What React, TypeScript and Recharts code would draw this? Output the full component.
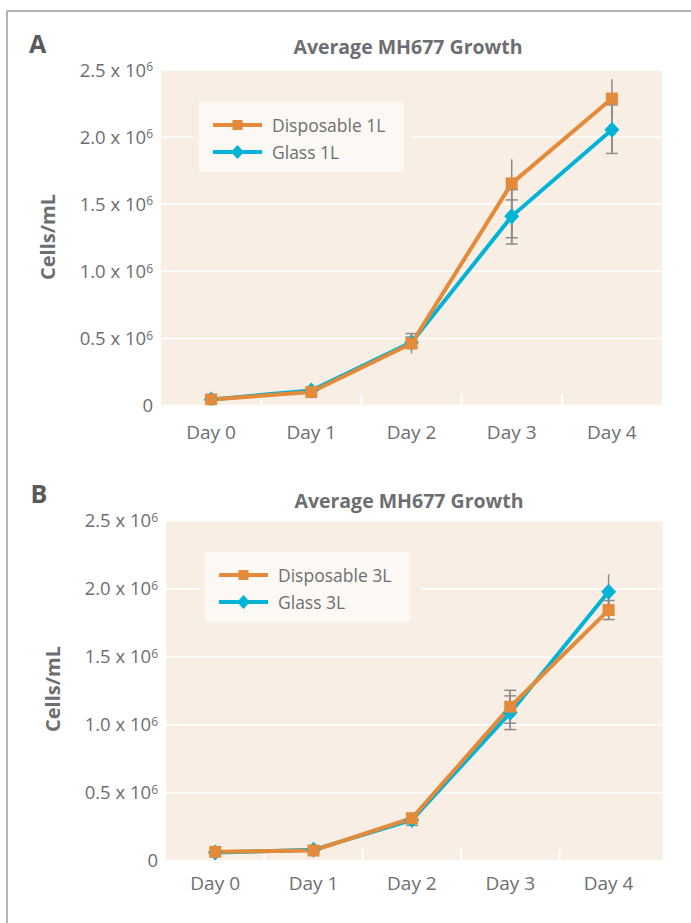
import React from 'react';
import { LineChart, Line, XAxis, YAxis, CartesianGrid, ErrorBar, Legend, ReferenceLine } from 'recharts';

// ---------- data (values in 10^6 cells/mL) ----------
const DAYS = ['Day 0', 'Day 1', 'Day 2', 'Day 3', 'Day 4'];
const Y_TICKS = [0, 0.5, 1, 1.5, 2, 2.5];
const TITLE = 'Average MH677 Growth';
const Y_LABEL = 'Cells/mL';

// Panel A: 1L vessels
const A_NAMES = ['Disposable 1L', 'Glass 1L'];
const A_DISPOSABLE = [0.045, 0.1, 0.462, 1.655, 2.287];
const A_GLASS = [0.045, 0.112, 0.47, 1.41, 2.054];
const A_DISP_WHISKER = [null, null, [0.074, 0.074], [0.405, 0.18], [0.144, 0.144]];
const A_DISP_CAPS = [null, null, [0, 0.074], [0.405, -0.123], null];
const A_GLASS_WHISKER = [null, null, [0.04, 0.04], [0.207, 0.198], [0.176, 0.186]];
const A_GLASS_CAPS = [null, null, [0.04, 0.04], [0.207, 0.198], [0.176, 0.186]];

// Panel B: 3L vessels
const B_NAMES = ['Disposable 3L', 'Glass 3L'];
const B_DISPOSABLE = [0.065, 0.075, 0.312, 1.132, 1.843];
const B_GLASS = [0.06, 0.08, 0.3, 1.088, 1.978];
const B_DISP_WHISKER = [null, null, null, [0.121, 0.121], [0.07, 0.07]];
const B_DISP_CAPS = [null, null, null, [0.121, 0.121], [0.07, 0.07]];
const B_GLASS_WHISKER = [null, null, [0.04, 0.04], [0.124, 0.124], [0.151, 0.128]];
const B_GLASS_CAPS = [null, null, [0.04, 0.04], [0.124, 0.124], [0.151, 0]];

// category boundaries between days
const BOUNDARY_TICKS = [0.5, 1.5, 2.5, 3.5];

// ---------- styles ----------
const FONT = "'Open Sans', sans-serif";
const TEXT = '#6d6e71';
const ORANGE = '#E38A3B';
const CYAN = '#00B3D7';
const PLOT_BG = '#F8EEE4';
const LEGEND_BG = '#FCF9F5';
const ERR = '#8c8c8c';

const buildRows = (disp, glass, dW, dC, gW, gC) =>
  DAYS.map((d, i) => ({
    idx: i,
    day: d,
    disp: disp[i],
    glass: glass[i],
    dW: dW[i],
    dC: dC[i],
    gW: gW[i],
    gC: gC[i],
  }));

const ROWS_A = buildRows(A_DISPOSABLE, A_GLASS, A_DISP_WHISKER, A_DISP_CAPS, A_GLASS_WHISKER, A_GLASS_CAPS);
const ROWS_B = buildRows(B_DISPOSABLE, B_GLASS, B_DISP_WHISKER, B_DISP_CAPS, B_GLASS_WHISKER, B_GLASS_CAPS);

const squareDot = (props: any) => {
  const { cx, cy, index } = props;
  if (cx == null || cy == null) return <g key={`s${index}`} />;
  return <rect key={`s${index}`} x={cx - 6} y={cy - 6} width={12} height={12} fill={ORANGE} />;
};
const diamondDot = (props: any) => {
  const { cx, cy, index } = props;
  if (cx == null || cy == null) return <g key={`d${index}`} />;
  return (
    <polygon
      key={`d${index}`}
      points={`${cx},${cy - 8} ${cx + 7.5},${cy} ${cx},${cy + 8} ${cx - 7.5},${cy}`}
      fill={CYAN}
    />
  );
};

// short white tick rising from the bottom of the plot at a category boundary
const boundaryTick = (props: any) => {
  const { x1, y1, x2, y2 } = props;
  if (x1 == null) return <g />;
  const bottom = Math.max(y1, y2);
  return <line x1={x1} y1={bottom} x2={x2} y2={bottom - 11.5} stroke="#ffffff" strokeWidth={2} />;
};

const YTick = (props: any) => {
  const { x, y, payload } = props;
  const v = payload.value;
  return (
    <text x={x} y={y} dy="0.36em" textAnchor="end" fill={TEXT} fontSize={18.5} fontFamily={FONT}>
      {v === 0 ? (
        '0'
      ) : (
        <>
          {`${v.toFixed(1)} x 10`}
          <tspan dy="-0.45em" fontSize={12}>
            6
          </tspan>
        </>
      )}
    </text>
  );
};

const LegendBox = ({ names, padL, padR }: any) => {
  const row = (name: string, color: string, marker: 'square' | 'diamond') => (
    <div style={{ display: 'flex', alignItems: 'center', height: 27 }}>
      <svg width={49} height={16} style={{ marginLeft: 14, display: 'block' }}>
        <line x1={0} y1={8} x2={49} y2={8} stroke={color} strokeWidth={4} />
        {marker === 'square' ? (
          <rect x={19.5} y={3} width={10} height={10} fill={color} />
        ) : (
          <polygon points="24.5,1 31,8 24.5,15 18,8" fill={color} />
        )}
      </svg>
      <span style={{ marginLeft: 10, fontFamily: FONT, fontSize: 17.5, color: TEXT, lineHeight: '20px' }}>{name}</span>
    </div>
  );
  return (
    <div style={{ background: PLOT_BG, paddingLeft: padL, paddingRight: padR, paddingTop: 6, paddingBottom: 6 }}>
      <div style={{ background: LEGEND_BG, width: 205, height: 70, boxSizing: 'border-box', paddingTop: 9.5 }}>
        {row(names[0], ORANGE, 'square')}
        {row(names[1], CYAN, 'diamond')}
      </div>
    </div>
  );
};

const Panel = ({ rows, names, top, height, margin, xDomain, tickMargin, legendLeft, legendTop, padL, padR }: any) => (
  <div style={{ position: 'absolute', left: 0, top, width: 691, height }}>
    <LineChart width={691} height={height} data={rows} margin={margin}>
      <CartesianGrid vertical={false} horizontal stroke="#ffffff" strokeWidth={1.5} fill={PLOT_BG} fillOpacity={1} />
      <XAxis
        dataKey="idx"
        type="number"
        domain={xDomain}
        allowDataOverflow
        ticks={[0, 1, 2, 3, 4]}
        interval={0}
        tickFormatter={(i: number) => DAYS[i]}
        axisLine={false}
        tickLine={false}
        tickMargin={tickMargin}
        height={30}
        tick={{ fill: TEXT, fontSize: 19, fontFamily: FONT }}
      />
      <YAxis
        type="number"
        domain={[0, 2.5]}
        allowDataOverflow
        ticks={Y_TICKS}
        interval={0}
        width={80}
        axisLine={false}
        tickLine={false}
        tick={<YTick />}
      />
      {BOUNDARY_TICKS.map((b) => (
        <ReferenceLine key={b} x={b} shape={boundaryTick} />
      ))}
      <Legend
        layout="vertical"
        align="center"
        verticalAlign="middle"
        wrapperStyle={{ left: legendLeft, top: legendTop, width: 205 + padL + padR }}
        content={() => <LegendBox names={names} padL={padL} padR={padR} />}
      />
      <Line
        dataKey="glass"
        name={names[1]}
        stroke={CYAN}
        strokeWidth={4}
        dot={diamondDot}
        activeDot={false}
        isAnimationActive={false}
      >
        <ErrorBar dataKey="gW" width={0} stroke={ERR} strokeWidth={1.5} direction="y" />
        <ErrorBar dataKey="gC" width={6} stroke={ERR} strokeWidth={1.5} direction="y" />
      </Line>
      <Line
        dataKey="disp"
        name={names[0]}
        stroke={ORANGE}
        strokeWidth={4}
        dot={squareDot}
        activeDot={false}
        isAnimationActive={false}
      >
        <ErrorBar dataKey="dW" width={0} stroke={ERR} strokeWidth={1.5} direction="y" />
        <ErrorBar dataKey="dC" width={6} stroke={ERR} strokeWidth={1.5} direction="y" />
      </Line>
    </LineChart>
  </div>
);

export default function App() {
  return (
    <div style={{ position: 'absolute', left: 0, top: 0, width: 691, height: 923, background: '#fff', overflow: 'hidden' }}>
      <svg width={691} height={923} style={{ position: 'absolute', left: 0, top: 0 }}>
        <line x1={7} y1={11} x2={691} y2={11} stroke="#9a9a9a" strokeWidth={1.5} />
        <line x1={7} y1={11} x2={7} y2={923} stroke="#9a9a9a" strokeWidth={1.5} />
        <text x={29} y={52.5} fontFamily={FONT} fontWeight={700} fontSize={25} fill="#58595b">A</text>
        <text x={30.5} y={502.7} fontFamily={FONT} fontWeight={700} fontSize={25} fill="#58595b">B</text>
        <text x={408} y={54} textAnchor="middle" fontFamily={FONT} fontWeight={700} fontSize={19.5} fill={TEXT}>{TITLE}</text>
        <text x={409} y={507.7} textAnchor="middle" fontFamily={FONT} fontWeight={700} fontSize={19.5} fill={TEXT}>{TITLE}</text>
        <text transform="translate(55,237) rotate(-90)" textAnchor="middle" fontFamily={FONT} fontWeight={700} fontSize={20} fill={TEXT}>{Y_LABEL}</text>
        <text transform="translate(60,689) rotate(-90)" textAnchor="middle" fontFamily={FONT} fontWeight={700} fontSize={20} fill={TEXT}>{Y_LABEL}</text>
      </svg>
      <Panel
        rows={ROWS_A}
        names={A_NAMES}
        top={0}
        height={470}
        margin={{ top: 70, right: 29, bottom: 34.5, left: 81 }}
        xDomain={[-0.5, 4.5]}
        tickMargin={14}
        legendLeft={193}
        legendTop={96}
        padL={6}
        padR={7}
      />
      <Panel
        rows={ROWS_B}
        names={B_NAMES}
        top={460}
        height={463}
        margin={{ top: 60.7, right: 28.3, bottom: 32.3, left: 86 }}
        xDomain={[-0.5, 4.55]}
        tickMargin={9.5}
        legendLeft={200}
        legendTop={85.7}
        padL={5}
        padR={11}
      />
    </div>
  );
}
